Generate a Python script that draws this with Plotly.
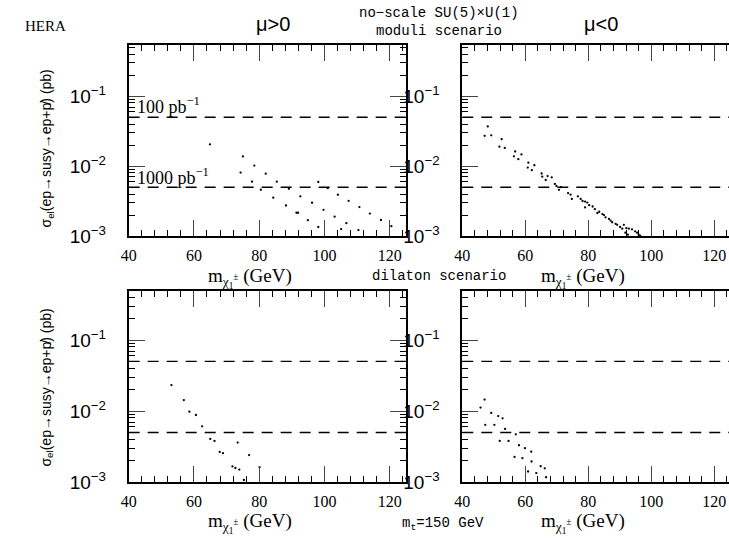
import plotly.graph_objects as go

# ---------------- data ----------------
# moduli scenario, mu>0
mod_pos_m = [64.9, 75.0, 74.3, 78.5, 77.8, 82.0, 80.5, 85.4, 84.3, 89.1, 88.2, 92.6, 91.4, 91.9,
             96.2, 94.9, 98.1, 99.7, 98.1, 101.0, 104.1, 107.4, 103.1, 106.7, 105.1, 110.7,
             113.9, 110.4, 117.3, 120.5]
mod_pos_s = [0.0205, 0.01375, 0.0081, 0.0102, 0.0060, 0.0078, 0.0046, 0.0060, 0.00355, 0.00475,
             0.00274, 0.0037, 0.00216, 0.00216, 0.0030, 0.00169, 0.00594, 0.00238, 0.00135,
             0.00484, 0.0039, 0.0032, 0.0019, 0.00153, 0.00126, 0.0026, 0.0021, 0.00122,
             0.0017, 0.00139]
# moduli scenario, mu<0
mod_neg_m = [48.1, 47.1, 49.2, 52.5, 51.8, 53.5, 56.8, 58.8, 56.4, 57.8, 61.0, 62.9, 60.8, 62.1,
             65.2, 67.1, 65.4, 68.4, 66.5, 69.4, 69.9, 71.3, 70.7, 73.6, 74.4, 74.8, 76.7, 77.6,
             78.2, 79.0, 79.7, 79.0, 80.3, 81.4, 82.1, 83.5, 82.9, 84.5, 85.0, 85.5, 86.6, 87.1,
             87.6, 88.7, 89.2, 90.1, 91.3, 90.8, 92.1, 92.9, 93.9, 94.9, 95.5, 91.8, 92.6, 96.0,
             96.5]
mod_neg_s = [0.0370, 0.0271, 0.0276, 0.0243, 0.0190, 0.0182, 0.0162, 0.0147, 0.0138, 0.0126,
             0.0112, 0.0103, 0.00955, 0.00875, 0.00785, 0.00721, 0.00708, 0.00692, 0.00634,
             0.00557, 0.00522, 0.00500, 0.00459, 0.00412, 0.00391, 0.00340, 0.00370, 0.00340,
             0.00318, 0.00312, 0.00302, 0.00257, 0.00277, 0.00265, 0.00243, 0.00223, 0.00214,
             0.00207, 0.00200, 0.00186, 0.00176, 0.00167, 0.00158, 0.00150, 0.00145, 0.00135,
             0.00145, 0.00128, 0.00130, 0.00128, 0.00125, 0.00117, 0.00112, 0.00112, 0.00105,
             0.00105, 0.00102]
# dilaton scenario, mu>0
dil_pos_m = [53.1, 56.9, 58.6, 60.6, 62.5, 65.0, 66.3, 67.9, 68.9, 73.4, 76.9, 71.8, 72.7, 73.9,
             80.1, 75.3]
dil_pos_s = [0.0232, 0.0143, 0.0098, 0.0088, 0.0061, 0.00405, 0.0038, 0.00266, 0.00255, 0.0036,
             0.0024, 0.00166, 0.00158, 0.0015, 0.00162, 0.00107]
# dilaton scenario, mu<0
dil_neg_m = [47.1, 45.8, 49.2, 47.3, 50.2, 51.4, 52.8, 53.6, 57.0, 51.9, 54.7, 58.0, 59.9, 61.9,
             56.6, 59.1, 62.0, 64.9, 66.2, 60.9, 63.5, 66.6]
dil_neg_s = [0.0145, 0.0112, 0.0094, 0.0064, 0.0064, 0.0085, 0.0079, 0.0056, 0.0047, 0.0038,
             0.0038, 0.0033, 0.0030, 0.00268, 0.00226, 0.00217, 0.00195, 0.00167, 0.00156,
             0.00141, 0.00134, 0.00117]

limit_100 = 0.05     # 100 pb^-1 discovery limit
limit_1000 = 0.005   # 1000 pb^-1 discovery limit

x_ticks = [40, 60, 80, 100, 120]
x_minor = [v for v in range(44, 125, 4) if v % 20 != 0]
y_ticks = [1e-3, 1e-2, 1e-1]
y_ticktext = ["10<sup>\u22123</sup>", "10<sup>\u22122</sup>", "10<sup>\u22121</sup>"]
y_minor = [m * d for d in (1e-3, 1e-2, 1e-1) for m in range(2, 10) if m * d < 0.55]

# ---------------- figure ----------------
W, H = 729, 546
def px(x):
    return x / W
def py(y):
    return 1 - y / H

panels = [
    # (xaxis id, yaxis id, x domain px, y domain px, x range, y range log, mirror y, data)
    ("x", "y", (122, 402.5), (46, 241), [40, 125], [-3, -0.27], "ticks", mod_pos_m, mod_pos_s),
    ("x2", "y2", (459.3, 729), (46, 241), [40, 124.7], [-3, -0.27], False, mod_neg_m, mod_neg_s),
    ("x3", "y3", (122, 402.5), (297, 492), [40, 125], [-3, -0.31], "ticks", dil_pos_m, dil_pos_s),
    ("x4", "y4", (459.3, 729), (297, 492), [40, 124.7], [-3, -0.31], False, dil_neg_m, dil_neg_s),
]

fig = go.Figure()
tickfont_x = dict(family="Liberation Serif", size=16, color="black")
tickfont_y = dict(family="Liberation Sans", size=19, color="black")

for xa, ya, xd, yd, xr, yr, ymir, mx, sy in panels:
    fig.add_trace(go.Scatter(x=mx, y=sy, mode="markers", xaxis=xa, yaxis=ya,
                             marker=dict(size=2.3, color="black"), showlegend=False,
                             hoverinfo="skip"))
    for lim in (limit_100, limit_1000):
        fig.add_trace(go.Scatter(x=[xr[0], xr[1]], y=[lim, lim], mode="lines", xaxis=xa,
                                 yaxis=ya, line=dict(color="black", width=1.4, dash="11px,8px"),
                                 showlegend=False, hoverinfo="skip"))
    xkey = "xaxis" + xa[1:]
    ykey = "yaxis" + ya[1:]
    fig.layout[xkey] = dict(
        domain=[px(xd[0]), min(px(xd[1]), 1.0)], range=xr, anchor=ya,
        tickmode="array", tickvals=x_ticks, ticks="inside", ticklen=16, tickwidth=1.3,
        showline=True, linewidth=1.7, linecolor="black", mirror="ticks",
        showgrid=False, zeroline=False, tickfont=tickfont_x, ticklabelstandoff=4,
        minor=dict(tickmode="array", tickvals=x_minor, ticks="inside", ticklen=6,
                   tickwidth=1.1, tickcolor="black", showgrid=False),
    )
    fig.layout[ykey] = dict(
        domain=[py(yd[1]), py(yd[0])], range=yr, type="log", anchor=xa,
        tickmode="array", tickvals=y_ticks, ticktext=y_ticktext, ticks="inside",
        ticklen=16, tickwidth=1.3, showline=True, linewidth=1.7, linecolor="black",
        mirror=ymir, showgrid=False, zeroline=False, tickfont=tickfont_y,
        ticklabelstandoff=17,
        minor=dict(tickmode="array", tickvals=y_minor, ticks="inside", ticklen=6,
                   tickwidth=1.1, tickcolor="black", showgrid=False),
    )

serif = "Liberation Serif"
mono = "Liberation Mono"
ann = []
def text(x, y, s, size, family=serif, xanchor="center", yanchor="middle", angle=0):
    ann.append(dict(x=px(x), y=py(y), xref="paper", yref="paper", text=s, showarrow=False,
                    xanchor=xanchor, yanchor=yanchor, textangle=angle,
                    font=dict(family=family, size=size, color="black")))

text(15, 27, "HERA", 15, xanchor="left")
text(268, 24, "\u03bc>0", 20, family="Liberation Sans")
text(600, 24, "\u03bc<0", 20, family="Liberation Sans")
text(436, 13, "no\u2212scale SU(5)\u00d7U(1)", 14, family=mono)
text(436, 32, "moduli scenario", 14, family=mono)
text(436, 282, "dilaton scenario", 14, family=mono)
text(440, 535, "m<sub>t</sub>=150 GeV", 14, family=mono)

xlab = "m<sub>\u03c7<sub>1</sub><sup>\u00b1</sup></sub> (GeV)"
text(245, 284, xlab, 19)
text(581, 284, xlab, 19)
text(245, 534, xlab, 19)
text(581, 534, xlab, 19)

ylab = "\u03c3<sub>el</sub>(ep\u2192susy\u2192ep+p\u0338) (pb)"
text(39, 152, ylab, 14, family="Liberation Sans", angle=-90)
text(39, 396, ylab, 14, family="Liberation Sans", angle=-90)

text(128, 108, "100 pb<sup>\u22121</sup>", 18, xanchor="left")
text(128, 180, "1000 pb<sup>\u22121</sup>", 18, xanchor="left")

fig.update_layout(width=W, height=H, margin=dict(l=0, r=0, t=0, b=0),
                  paper_bgcolor="white", plot_bgcolor="white", annotations=ann,
                  showlegend=False)

fig.write_html("out.html")
